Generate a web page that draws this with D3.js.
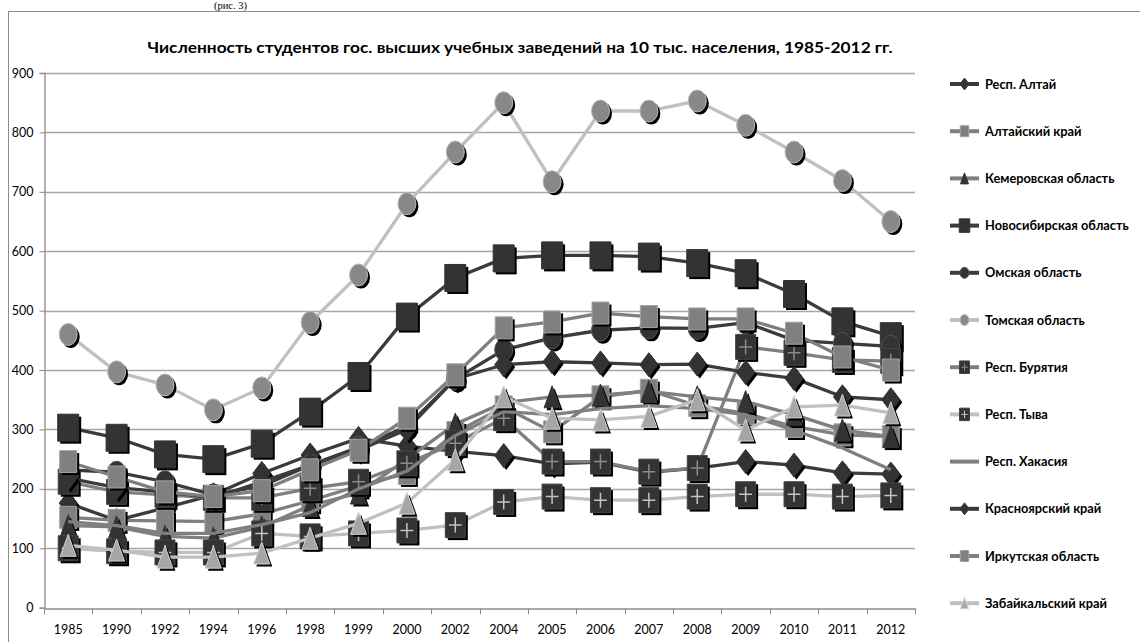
<!DOCTYPE html>
<html>
<head>
<meta charset="utf-8">
<script src="https://cdn.jsdelivr.net/npm/d3@7"></script>
<style>
  body { margin: 0; background: #fff; }
  svg { display: block; font-family: Lato, "Open Sans", sans-serif; }
</style>
</head>
<body>
<div id="chart"></div>
<script>
var width = 1140,
	height = 642;

// data
var years = ['1985','1990','1992','1994','1996','1998','1999','2000','2002','2004','2005','2006','2007','2008','2009','2010','2011','2012'];
var yTicks = [0, 100, 200, 300, 400, 500, 600, 700, 800, 900];

var names = ['Респ. Алтай', 'Алтайский край', 'Кемеровская область', 'Новосибирская область',
	'Омская область', 'Томская область', 'Респ. Бурятия', 'Респ. Тыва', 'Респ. Хакасия',
	'Красноярский край', 'Иркутская область', 'Забайкальский край'];

var altaiRep   = [176,147,168,190,226,257,285,272,263,256,242,245,228,235,246,240,227,225];
var altaiKrai  = [152,147,146,145,158,180,205,226,295,338,296,355,366,340,327,305,291,288];
var kemerovo   = [138,136,120,117,136,172,193,250,309,345,355,358,364,355,347,325,299,288];
var novosib    = [303,286,258,250,276,330,390,490,555,588,593,593,591,580,563,528,482,457];
var omsk       = [232,228,212,190,205,240,270,305,385,434,454,467,471,470,480,450,445,440];
var tomsk      = [460,397,375,333,370,480,560,680,767,850,717,836,836,853,812,767,719,650];
var buryatia   = [212,195,190,185,185,201,212,243,277,319,246,246,229,235,439,429,417,415];
var tyva       = [100,95,93,93,125,120,125,130,139,178,187,181,181,187,191,191,187,189];
var khakasia   = [145,138,125,125,140,160,200,230,290,330,325,335,340,335,325,299,269,232];
var krasnoyarsk= [218,202,195,185,212,240,265,300,385,409,414,412,409,410,396,386,355,350];
var irkutsk    = [246,220,195,187,197,232,265,319,392,471,481,496,490,486,486,462,422,400];
var zabaikal   = [105,97,85,85,92,117,142,176,249,355,319,316,322,350,299,338,341,328];

var values = [altaiRep, altaiKrai, kemerovo, novosib, omsk, tomsk, buryatia, tyva, khakasia, krasnoyarsk, irkutsk, zabaikal];

// look of each series
var DARK = '#3b3b3b', MID = '#7f7f7f', LIGHT = '#c0c0c0';
var styles = [
	{line: DARK,  shape: 'diamond',  fill: '#333', stroke: '#333', w: 18, h: 24},
	{line: MID,   shape: 'square',   fill: '#808080', stroke: '#a3a3a3', w: 17, h: 22},
	{line: MID,   shape: 'triangle', fill: '#333', stroke: '#333', w: 16, h: 22},
	{line: DARK,  shape: 'square',   fill: '#333', stroke: '#333', w: 21, h: 27},
	{line: DARK,  shape: 'circle',   fill: '#333', stroke: '#555', w: 18, h: 22},
	{line: LIGHT, shape: 'circle',   fill: '#888', stroke: '#bbb', w: 18, h: 22},
	{line: MID,   shape: 'square',   fill: '#333', stroke: '#444', w: 20, h: 25, plus: '#8a8a8a'},
	{line: LIGHT, shape: 'square',   fill: '#333', stroke: '#444', w: 20, h: 25, plus: '#c4c4c4'},
	{line: MID,   shape: null},
	{line: DARK,  shape: 'diamond',  fill: '#333', stroke: '#333', w: 18, h: 24},
	{line: MID,   shape: 'square',   fill: '#808080', stroke: '#a3a3a3', w: 17, h: 22},
	{line: LIGHT, shape: 'triangle', fill: '#a6a6a6', stroke: '#cfcfcf', w: 16, h: 22}
];

function shapePath(shape, w, h) {
	var a = w / 2, b = h / 2;
	if (shape === 'square') return 'M' + -a + ',' + -b + 'h' + w + 'v' + h + 'h' + -w + 'Z';
	if (shape === 'triangle') return 'M0,' + -b + 'L' + a + ',' + b + 'L' + -a + ',' + b + 'Z';
	if (shape === 'diamond') return 'M0,' + -b + 'L' + a + ',0L0,' + b + 'L' + -a + ',0Z';
	if (shape === 'circle') return 'M' + -a + ',0a' + a + ',' + b + ' 0 1,0 ' + w + ',0a' + a + ',' + b + ' 0 1,0 ' + -w + ',0Z';
	return '';
}

function plusPath(w, h) {
	return 'M' + (-w * 0.32) + ',0h' + (w * 0.64) + 'M0,' + (-h * 0.3) + 'v' + (h * 0.6);
}

var svg = d3.select('#chart').append('svg')
	.attr('width', width)
	.attr('height', height);

// outer frame and the caption above it
svg.append('text')
	.attr('x', 214).attr('y', 9)
	.style('font-family', '"Liberation Serif", serif')
	.style('font-size', '10.5px')
	.text('(рис. 3)');

svg.append('rect')
	.attr('x', 8.5).attr('y', 11.5)
	.attr('width', 1140).attr('height', 640)
	.attr('fill', 'none')
	.attr('stroke', '#8c8c8c');

svg.append('text')
	.attr('x', 520).attr('y', 53)
	.attr('text-anchor', 'middle')
	.style('font-weight', 'bold')
	.style('font-size', '16px')
	.attr('textLength', 745)
	.attr('lengthAdjust', 'spacingAndGlyphs')
	.text('Численность студентов гос. высших учебных заведений на 10 тыс. населения, 1985-2012 гг.');

var x = d3.scaleBand()
	.domain(years)
	.range([44, 915]);

var y = d3.scaleLinear()
	.domain([0, 900])
	.range([607.7, 73]);

// grid
svg.append('g')
	.selectAll('line')
	.data(yTicks.slice(1))
	.enter()
	.append('line')
	.attr('x1', 44).attr('x2', 915)
	.attr('y1', d => Math.round(y(d)) + 0.5)
	.attr('y2', d => Math.round(y(d)) + 0.5)
	.attr('stroke', '#a6a6a6')
	.attr('stroke-width', 1.3);

var yAxis = svg.append('g')
	.attr('transform', 'translate(44.5,0)')
	.call(d3.axisLeft(y).tickValues(yTicks).tickSize(5).tickPadding(6));

var xAxis = svg.append('g')
	.attr('transform', 'translate(0,' + (Math.round(y(0)) + 0.5) + ')')
	.call(d3.axisBottom(x).tickSize(0).tickPadding(17));

// ticks between categories
xAxis.selectAll('line.sep')
	.data(years.map(d => x(d)).concat([915]))
	.enter()
	.append('line')
	.classed('sep', true)
	.attr('x1', d => Math.round(d) + 0.5)
	.attr('x2', d => Math.round(d) + 0.5)
	.attr('y1', 0).attr('y2', 6)
	.attr('stroke', '#8c8c8c');

[yAxis, xAxis].forEach(function(g) {
	g.select('.domain').attr('stroke', '#8c8c8c').attr('stroke-width', 1.3);
	g.selectAll('.tick line').attr('stroke', '#8c8c8c');
	g.selectAll('.tick text')
		.style('font-family', 'Lato, sans-serif')
		.style('font-size', '12.5px')
		.attr('fill', '#000');
});

var line = d3.line()
	.x((d, i) => x(years[i]) + x.bandwidth() / 2)
	.y(d => y(d));

function drawMarker(g, st, cx, cy, k) {
	var w = st.w * k, h = st.h * k;
	var m = g.append('g').attr('transform', 'translate(' + cx + ',' + cy + ')');
	if (k === 1) {
		m.append('path')
			.attr('d', shapePath(st.shape, w, h))
			.attr('transform', 'translate(2.5,2.5)')
			.attr('fill', '#000');
	}
	m.append('path')
		.attr('d', shapePath(st.shape, w, h))
		.attr('fill', st.fill)
		.attr('stroke', st.stroke)
		.attr('stroke-width', 1);
	if (st.plus) {
		m.append('path')
			.attr('d', plusPath(w, h))
			.attr('stroke', st.plus)
			.attr('stroke-width', k === 1 ? 1.5 : 1)
			.attr('fill', 'none');
	}
}

var series = svg.append('g').classed('series', true);

values.forEach(function(vals, s) {
	var st = styles[s];
	var g = series.append('g');
	g.append('path')
		.datum(vals)
		.attr('d', line)
		.attr('fill', 'none')
		.attr('stroke', st.line)
		.attr('stroke-width', 3.3)
		.attr('stroke-linejoin', 'round');
	if (st.shape) {
		vals.forEach(function(v, i) {
			drawMarker(g, st, x(years[i]) + x.bandwidth() / 2, y(v), 1);
		});
	}
});

// legend
var legend = svg.append('g').classed('legend', true);
names.forEach(function(name, s) {
	var st = styles[s];
	var ly = 84 + s * 47.2;
	var g = legend.append('g');
	g.append('line')
		.attr('x1', 950).attr('x2', 979)
		.attr('y1', ly).attr('y2', ly)
		.attr('stroke', st.line)
		.attr('stroke-width', 4);
	if (st.shape) drawMarker(g, st, 964.5, ly, 0.5);
	g.append('text')
		.attr('x', 985).attr('y', ly + 4.5)
		.style('font-weight', 'bold')
		.style('font-size', '12.8px')
		.text(name);
});
</script>
</body>
</html>
